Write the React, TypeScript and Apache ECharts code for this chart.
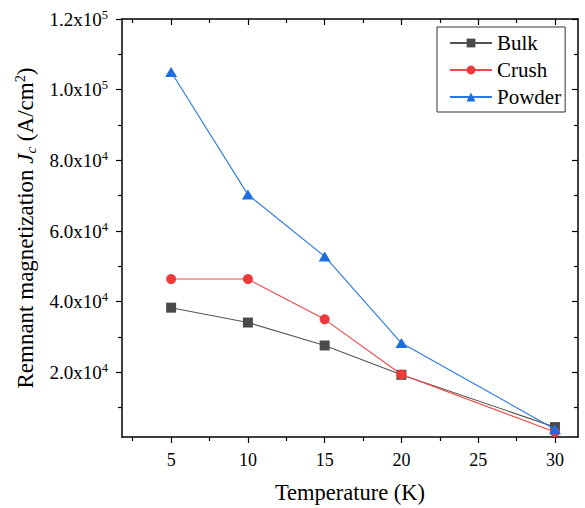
import React, { useEffect, useRef } from "react";
import * as echarts from "echarts";

const temperatures = [5, 10, 15, 20, 30];
const bulkValues = [38300, 34100, 27600, 19300, 4500];
const crushValues = [46400, 46400, 35000, 19400, 3100];
const powderValues = [105000, 70300, 52800, 28300, 3900];

const xMajorTicks = [5, 10, 15, 20, 25, 30];
const xMinorTicks = [2.5, 7.5, 12.5, 17.5, 22.5, 27.5];
const yMajorTicks = [20000, 40000, 60000, 80000, 100000, 120000];
const yMinorTicks = [10000, 30000, 50000, 70000, 90000, 110000];
const yTickLabels: Record<number, string> = {
  20000: "{b|2.0x10}{s|4}",
  40000: "{b|4.0x10}{s|4}",
  60000: "{b|6.0x10}{s|4}",
  80000: "{b|8.0x10}{s|4}",
  100000: "{b|1.0x10}{s|5}",
  120000: "{b|1.2x10}{s|5}",
};

const X_MIN = 1.8;
const X_MAX = 31.5;
const Y_MIN = 1700;
const Y_MAX = 120000;

const FONT = "'Liberation Serif', 'Times New Roman', serif";

function App() {
  const ref = useRef<HTMLDivElement>(null);

  useEffect(() => {
    if (!ref.current) return;
    const chart = echarts.init(ref.current, undefined, { renderer: "svg" });

    const black = "#000";
    const mk = (v: number[]) => temperatures.map((t, i) => [t, v[i]]);

    const baseX = (extra: any) => ({
      type: "value",
      min: X_MIN,
      max: X_MAX,
      splitLine: { show: false },
      axisLabel: { show: false },
      axisLine: { show: false },
      ...extra,
    });
    const baseY = (extra: any) => ({
      type: "value",
      min: Y_MIN,
      max: Y_MAX,
      splitLine: { show: false },
      axisLabel: { show: false },
      axisLine: { show: false },
      ...extra,
    });
    const tickStyle = { color: black, width: 1.2 };

    const option: any = {
      animation: false,
      backgroundColor: "#fff",
      grid: {
        left: 122,
        right: 7,
        top: 19,
        bottom: 71,
        outerBoundsMode: "none",
      },
      legend: {
        orient: "vertical",
        left: 437,
        top: 27,
        padding: [5, 4, 4, 12],
        itemGap: 5,
        itemWidth: 42,
        itemHeight: 11,
        borderColor: "#333",
        borderWidth: 1,
        textStyle: {
          fontFamily: FONT,
          fontSize: 21,
          lineHeight: 22,
          color: black,
        },
        data: ["Bulk", "Crush", "Powder"],
      },
      xAxis: [
        baseX({
          position: "bottom",
          axisLine: { show: true, lineStyle: { color: black, width: 1.5 } },
          axisTick: {
            show: true,
            inside: false,
            length: 6,
            customValues: xMajorTicks,
            lineStyle: tickStyle,
          },
          axisLabel: {
            show: true,
            customValues: xMajorTicks,
            fontFamily: FONT,
            fontSize: 18,
            color: black,
            margin: 14,
          },
          name: "Temperature (K)",
          nameLocation: "middle",
          nameGap: 42,
          nameTextStyle: {
            fontFamily: FONT,
            fontSize: 22.5,
            lineHeight: 26,
            color: black,
          },
        }),
        baseX({
          position: "bottom",
          axisTick: {
            show: true,
            inside: false,
            length: 4,
            customValues: xMinorTicks,
            lineStyle: tickStyle,
          },
        }),
        baseX({
          position: "top",
          axisLine: { show: true, lineStyle: { color: black, width: 1.5 } },
          axisTick: {
            show: true,
            inside: true,
            length: 6,
            customValues: xMajorTicks,
            lineStyle: tickStyle,
          },
        }),
        baseX({
          position: "top",
          axisTick: {
            show: true,
            inside: true,
            length: 4,
            customValues: xMinorTicks,
            lineStyle: tickStyle,
          },
        }),
      ],
      yAxis: [
        baseY({
          position: "left",
          axisLine: { show: true, lineStyle: { color: black, width: 1.5 } },
          axisTick: {
            show: true,
            inside: false,
            length: 6,
            customValues: yMajorTicks,
            lineStyle: tickStyle,
          },
          axisLabel: {
            show: true,
            customValues: yMajorTicks,
            formatter: (v: number) => yTickLabels[Math.round(v)] || "",
            margin: 14,
            color: black,
            rich: {
              b: { fontFamily: FONT, fontSize: 19, lineHeight: 22, color: black },
              s: {
                fontFamily: FONT,
                fontSize: 12.5,
                lineHeight: 12,
                verticalAlign: "top",
                color: black,
              },
            },
          },
          name:
            "{t|Remnant magnetization }{i|J}{sub|c}{t| (A/cm}{sup|2}{t|)}",
          nameLocation: "middle",
          nameGap: 79,
          nameTextStyle: {
            fontFamily: FONT,
            fontSize: 23,
            color: black,
            rich: {
              t: { fontFamily: FONT, fontSize: 23, lineHeight: 26, color: black },
              i: {
                fontFamily: FONT,
                fontSize: 23,
                lineHeight: 26,
                fontStyle: "italic",
                color: black,
              },
              sub: {
                fontFamily: FONT,
                fontSize: 15,
                lineHeight: 14,
                fontStyle: "italic",
                verticalAlign: "bottom",
                color: black,
              },
              sup: {
                fontFamily: FONT,
                fontSize: 14.5,
                lineHeight: 14,
                verticalAlign: "top",
                color: black,
              },
            },
          },
        }),
        baseY({
          position: "left",
          axisTick: {
            show: true,
            inside: false,
            length: 4,
            customValues: yMinorTicks,
            lineStyle: tickStyle,
          },
        }),
        baseY({
          position: "right",
          axisLine: { show: true, lineStyle: { color: black, width: 1.5 } },
          axisTick: {
            show: true,
            inside: true,
            length: 6,
            customValues: yMajorTicks,
            lineStyle: tickStyle,
          },
        }),
        baseY({
          position: "right",
          axisTick: {
            show: true,
            inside: true,
            length: 4,
            customValues: yMinorTicks,
            lineStyle: tickStyle,
          },
        }),
      ],
      series: [
        {
          name: "Bulk",
          type: "line",
          data: mk(bulkValues),
          symbol: "rect",
          symbolSize: 10,
          lineStyle: { color: "#555555", width: 1.1 },
          itemStyle: { color: "#4a4a4a" },
          z: 2,
        },
        {
          name: "Crush",
          type: "line",
          data: mk(crushValues),
          symbol: "circle",
          symbolSize: 10,
          lineStyle: { color: "#f04848", width: 1.1 },
          itemStyle: { color: "#ee3a3a" },
          z: 3,
        },
        {
          name: "Powder",
          type: "line",
          data: mk(powderValues),
          symbol: "triangle",
          symbolSize: [12, 10],
          lineStyle: { color: "#2a78e4", width: 1.1 },
          itemStyle: { color: "#1c6ee0" },
          z: 4,
        },
      ],
    };

    chart.setOption(option);
    return () => chart.dispose();
  }, []);

  return (
    <div
      ref={ref}
      style={{ position: "absolute", left: 0, top: 0, width: 585, height: 508 }}
    />
  );
}

export default App;
